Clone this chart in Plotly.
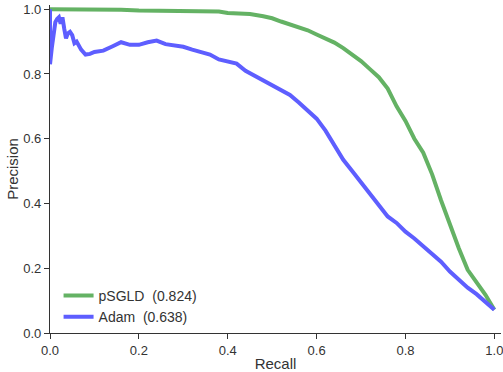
import plotly.graph_objects as go

psgld_recall = [0, 0.05, 0.10, 0.16, 0.20, 0.25, 0.30, 0.35, 0.38, 0.40, 0.42, 0.45, 0.48, 0.50, 0.52,
                0.55, 0.58, 0.60, 0.62, 0.64, 0.66, 0.68, 0.70, 0.72, 0.74, 0.76, 0.78, 0.80, 0.82,
                0.84, 0.86, 0.88, 0.90, 0.92, 0.94, 0.96, 0.98, 1.0]
psgld_precision = [1.0, 1.0, 1.0, 0.998, 0.996, 0.995, 0.995, 0.994, 0.993, 0.988, 0.987, 0.985, 0.978,
                   0.972, 0.962, 0.950, 0.935, 0.922, 0.910, 0.897, 0.880, 0.860, 0.840, 0.815, 0.790,
                   0.755, 0.700, 0.655, 0.600, 0.557, 0.490, 0.410, 0.335, 0.262, 0.195, 0.155, 0.118, 0.072]

adam_recall = [0, 0, 0.004, 0.008, 0.012, 0.016, 0.02, 0.024, 0.028, 0.032, 0.036, 0.04, 0.045, 0.05,
               0.055, 0.06, 0.065, 0.07, 0.08, 0.09, 0.10, 0.12, 0.14, 0.16, 0.18, 0.20, 0.22, 0.24,
               0.26, 0.28, 0.30, 0.32, 0.34, 0.36, 0.38, 0.40, 0.42, 0.44, 0.46, 0.48, 0.50, 0.52,
               0.54, 0.56, 0.58, 0.60, 0.62, 0.64, 0.66, 0.68, 0.70, 0.72, 0.74, 0.76, 0.78, 0.80,
               0.82, 0.84, 0.86, 0.88, 0.90, 0.92, 0.94, 0.96, 0.98, 1.0]
adam_precision = [1.0, 0.83, 0.88, 0.93, 0.96, 0.97, 0.975, 0.955, 0.975, 0.94, 0.91, 0.925, 0.93, 0.92,
                  0.895, 0.90, 0.885, 0.875, 0.86, 0.862, 0.868, 0.872, 0.885, 0.898, 0.89, 0.89,
                  0.898, 0.903, 0.892, 0.888, 0.884, 0.875, 0.869, 0.86, 0.845, 0.838, 0.832, 0.81,
                  0.795, 0.782, 0.768, 0.752, 0.735, 0.712, 0.688, 0.662, 0.625, 0.578, 0.535, 0.50,
                  0.465, 0.43, 0.39, 0.36, 0.34, 0.313, 0.292, 0.268, 0.245, 0.22, 0.19, 0.165,
                  0.14, 0.12, 0.095, 0.072]

names = ["pSGLD  (0.824)", "Adam  (0.638)"]
colors = ["rgb(100,178,100)", "rgb(94,94,255)"]
tick_vals = [0.0, 0.2, 0.4, 0.6, 0.8, 1.0]
tick_text = ["0.0", "0.2", "0.4", "0.6", "0.8", "1.0"]

fig = go.Figure()
fig.add_trace(go.Scatter(x=psgld_recall, y=psgld_precision, mode="lines", name=names[0],
                         line=dict(color=colors[0], width=4)))
fig.add_trace(go.Scatter(x=adam_recall, y=adam_precision, mode="lines", name=names[1],
                         line=dict(color=colors[1], width=4)))

axis_common = dict(showgrid=False, zeroline=False, showline=True, linecolor="#333", linewidth=1.2,
                   ticks="outside", ticklen=5, tickcolor="#333", tickvals=tick_vals, ticktext=tick_text,
                   tickfont=dict(size=13, color="#333"), automargin=False, ticklabeloverflow="allow")
fig.update_layout(
    width=503, height=372,
    margin=dict(l=50, r=2, t=5, b=39),
    plot_bgcolor="white", paper_bgcolor="white",
    font=dict(family="Liberation Sans, Arial, sans-serif", color="#333"),
    xaxis=dict(range=[0, 1.015], title=dict(text="Recall", font=dict(size=15), standoff=2), **axis_common),
    yaxis=dict(range=[0, 1.013], title=dict(text="Precision", font=dict(size=15), standoff=0), **axis_common),
    legend=dict(x=0.019, y=0.0, xanchor="left", yanchor="bottom", font=dict(size=14, color="#333"),
                bgcolor="rgba(0,0,0,0)", tracegroupgap=0, itemwidth=30),
    showlegend=True,
)
fig.write_html("out.html")
